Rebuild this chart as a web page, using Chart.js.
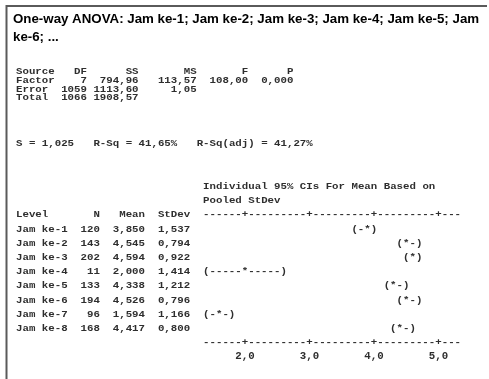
<!DOCTYPE html>
<html><head><meta charset="utf-8">
<script src="https://cdn.jsdelivr.net/npm/chart.js@4.4.0/dist/chart.umd.min.js"></script>
<style>html,body{margin:0;padding:0;background:#fff;overflow:hidden}#wrap{position:relative;width:489px;height:379px}</style>
</head><body><div id="wrap"><canvas id="c"></canvas></div>
<script>
// ---- data ----
const titleLines = ["One-way ANOVA: Jam ke-1; Jam ke-2; Jam ke-3; Jam ke-4; Jam ke-5; Jam", "ke-6; ..."];
const anovaHeader = ["Source", "DF", "SS", "MS", "F", "P"];
const anovaSources = ["Factor", "Error", "Total"];
const anovaDF = ["7", "1059", "1066"];
const anovaSS = ["794,96", "1113,60", "1908,57"];
const anovaMS = ["113,57", "1,05", ""];
const anovaF = ["108,00", "", ""];
const anovaP = ["0,000", "", ""];
const summaryLine = "S = 1,025   R-Sq = 41,65%   R-Sq(adj) = 41,27%";
const ciHeader = ["Individual 95% CIs For Mean Based on", "Pooled StDev"];
const levelHeader = ["Level", "N", "Mean", "StDev"];
const levels = ["Jam ke-1", "Jam ke-2", "Jam ke-3", "Jam ke-4", "Jam ke-5", "Jam ke-6", "Jam ke-7", "Jam ke-8"];
const nValues = [120, 143, 202, 11, 133, 194, 96, 168];
const means = [3.850, 4.545, 4.594, 2.000, 4.338, 4.526, 1.594, 4.417];
const stdevs = [1.537, 0.794, 0.922, 1.414, 1.212, 0.796, 1.166, 0.800];
const ciLow = [3.7, 4.4, 4.5, 1.4, 4.2, 4.4, 1.4, 4.3];
const ciHigh = [4.0, 4.7, 4.7, 2.6, 4.5, 4.7, 1.8, 4.6];
const tickValues = [2, 3, 4, 5];
const tickLabels = ["2,0", "3,0", "4,0", "5,0"];
const axisStart = 1.4, axisEnd = 5.3;

// ---- presentation ----
const MONO = 'bold 10.75px "Liberation Mono"';
const TXT = '#2e2e2e';
const SQUASH = 0.86;
const fmt3 = v => v.toFixed(3).replace('.', ',');

const minitabText = {
  id: 'minitabText',
  afterDraw(chart) {
    const ctx = chart.ctx, xs = chart.scales.x, ys = chart.scales.y;
    ctx.save();
    // frame
    ctx.strokeStyle = '#5a5a5a'; ctx.lineWidth = 2;
    ctx.beginPath(); ctx.moveTo(6.5, 379); ctx.lineTo(6.5, 6); ctx.lineTo(487, 6); ctx.stroke();
    // title
    ctx.fillStyle = '#000'; ctx.textAlign = 'left'; ctx.textBaseline = 'alphabetic';
    ctx.font = 'bold 13.3px "Liberation Sans"';
    ctx.fillText(titleLines[0], 13, 23);
    ctx.fillText(titleLines[1], 13, 41);
    // mono text
    ctx.font = MONO; ctx.fillStyle = TXT; ctx.textBaseline = 'middle';
    const mono = (s, x, y) => { ctx.save(); ctx.translate(x, y); ctx.scale(1, SQUASH); ctx.fillText(s, 0, 0); ctx.restore(); };
    const X0 = 16;
    const anovaY = [72, 80.7, 89.3, 97.7];
    const anovaRow = (a, b, c, d, e, f) => a.padEnd(6) + b.padStart(5) + c.padStart(8) + d.padStart(9) + e.padStart(8) + f.padStart(7);
    mono(anovaRow(...anovaHeader), X0, anovaY[0]);
    anovaSources.forEach((s, i) => mono(anovaRow(s, anovaDF[i], anovaSS[i], anovaMS[i], anovaF[i], anovaP[i]).trimEnd(), X0, anovaY[i + 1]));
    mono(summaryLine, X0, 143.3);
    const hx = xs.getPixelForValue(axisStart) - 3.2;
    mono(ciHeader[0], hx, ys.getPixelForValue(-3));
    mono(ciHeader[1], hx, ys.getPixelForValue(-2));
    const lvRow = (a, b, c, d) => a.padEnd(8) + b.padStart(5) + c.padStart(7) + d.padStart(7);
    mono(lvRow(...levelHeader), X0, ys.getPixelForValue(-1));
    levels.forEach((l, i) => mono(lvRow(l, String(nValues[i]), fmt3(means[i]), fmt3(stdevs[i])), X0, ys.getPixelForValue(i)));
    // ASCII axis lines
    ctx.textAlign = 'center';
    const t0 = Math.round(axisStart * 10), t1 = Math.round(axisEnd * 10);
    [-1, levels.length].forEach(r => {
      const y = ys.getPixelForValue(r);
      for (let t = t0; t <= t1; t++) mono(t % 10 === 0 ? '+' : '-', xs.getPixelForValue(t / 10), y);
    });
    // confidence intervals
    levels.forEach((l, i) => {
      const y = ys.getPixelForValue(i);
      const lo = Math.round(ciLow[i] * 10), hi = Math.round(ciHigh[i] * 10), m = Math.round(means[i] * 10 + 1e-9);
      for (let t = lo; t <= hi; t++) {
        const ch = t === lo ? '(' : t === hi ? ')' : t === m ? '*' : '-';
        mono(ch, xs.getPixelForValue(t / 10), y);
      }
    });
    ctx.restore();
  }
};

new Chart(document.getElementById('c'), {
  type: 'scatter',
  data: { datasets: [{ data: means.map((m, i) => ({ x: m, y: i })), pointRadius: 0, showLine: false }] },
  options: {
    responsive: true, maintainAspectRatio: false, animation: false,
    layout: { padding: { left: 199.825, right: 24.725, top: 222.2, bottom: 16.1 } },
    plugins: { legend: { display: false }, tooltip: { enabled: false }, title: { display: false } },
    scales: {
      x: {
        type: 'linear', min: 1.3, max: 5.4,
        grid: { display: false, drawTicks: false }, border: { display: false },
        afterBuildTicks: s => { s.ticks = tickValues.map(v => ({ value: v })); },
        ticks: { padding: 0, color: TXT, font: { family: 'Liberation Mono', size: 10.75, weight: 'bold' },
                 callback: (v, idx) => tickLabels[idx] }
      },
      y: { type: 'linear', reverse: true, min: -0.5, max: 8.5, display: false }
    }
  },
  plugins: [minitabText]
});
</script></body></html>
